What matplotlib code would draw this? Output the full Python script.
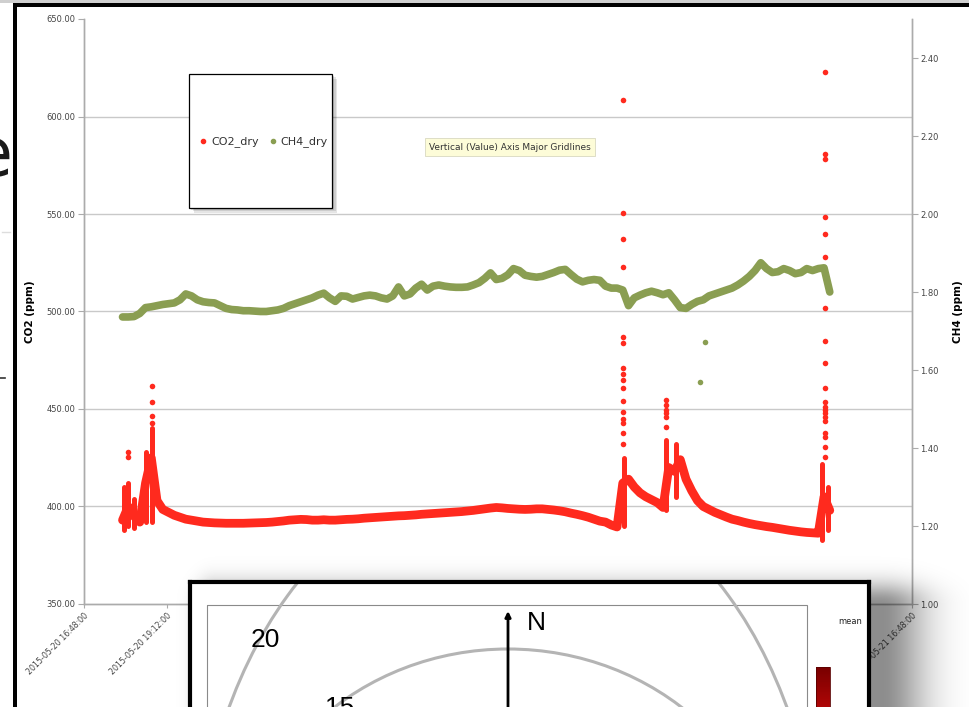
import numpy as np
import pandas as pd
import matplotlib
matplotlib.use('Agg')
import matplotlib.pyplot as plt
from matplotlib.patches import Rectangle, Ellipse
from matplotlib.lines import Line2D
from matplotlib.colors import LinearSegmentedColormap
from matplotlib.ticker import FormatStrFormatter

W, H = 969, 707
RED = '#ff2a1e'
GREEN = '#8a9e52'

# logger samples, every 10 min starting 17:55
co2_base = [393, 400, 395, 392, 412, 425, 403, 398.5, 397, 395.5,
            394.5, 393.5, 393, 392.5, 392, 391.8, 391.6, 391.5, 391.4, 391.4,
            391.4, 391.4, 391.5, 391.6, 391.7, 391.8, 392, 392.3, 392.6, 393,
            393.2, 393.4, 393.3, 393, 393, 393.2, 393, 393, 393.2, 393.4,
            393.5, 393.7, 394, 394.2, 394.4, 394.6, 394.8, 395, 395.2, 395.3,
            395.5, 395.7, 396, 396.2, 396.4, 396.6, 396.8, 397, 397.2, 397.4,
            397.7, 398, 398.4, 398.8, 399.2, 399.5, 399.3, 399, 398.8, 398.6,
            398.5, 398.6, 398.8, 398.8, 398.5, 398.2, 397.8, 397.3, 396.6, 396,
            395.3, 394.5, 393.5, 392.5, 392, 390.5, 389.5, 412, 414, 410,
            407, 405, 403.5, 402, 399.5, 420, 418, 424, 414, 408,
            403, 400, 398.5, 397, 395.8, 394.6, 393.5, 392.8, 392, 391.3,
            390.7, 390.2, 389.7, 389.3, 388.8, 388.3, 387.8, 387.4, 387, 386.7,
            386.5, 386.3, 405, 398]
ch4_base = [1.736, 1.736, 1.737, 1.745, 1.760, 1.762, 1.765, 1.768, 1.770, 1.772,
            1.780, 1.795, 1.790, 1.780, 1.775, 1.773, 1.772, 1.765, 1.758, 1.755,
            1.754, 1.752, 1.752, 1.751, 1.750, 1.750, 1.752, 1.754, 1.758, 1.765,
            1.770, 1.775, 1.780, 1.785, 1.792, 1.797, 1.785, 1.776, 1.790, 1.789,
            1.782, 1.786, 1.790, 1.792, 1.790, 1.785, 1.782, 1.790, 1.813, 1.790,
            1.795, 1.810, 1.820, 1.805, 1.815, 1.818, 1.815, 1.813, 1.812, 1.812,
            1.813, 1.818, 1.824, 1.835, 1.849, 1.832, 1.835, 1.844, 1.860, 1.855,
            1.843, 1.840, 1.838, 1.840, 1.845, 1.850, 1.856, 1.858, 1.845, 1.833,
            1.826, 1.830, 1.832, 1.830, 1.815, 1.810, 1.810, 1.805, 1.765, 1.785,
            1.792, 1.798, 1.802, 1.798, 1.793, 1.798, 1.780, 1.760, 1.758, 1.768,
            1.776, 1.780, 1.790, 1.795, 1.800, 1.805, 1.810, 1.818, 1.828, 1.840,
            1.855, 1.875, 1.860, 1.850, 1.852, 1.860, 1.855, 1.847, 1.850, 1.860,
            1.855, 1.860, 1.862, 1.800]
base_times = pd.date_range('2015-05-20 17:55', periods=len(co2_base), freq='10min')

# dense CO2 columns during spikes: time, low, high
col_times = pd.to_datetime(['2015-05-20 17:58', '2015-05-20 18:05', '2015-05-20 18:15',
                            '2015-05-20 18:36', '2015-05-20 18:46', '2015-05-21 08:27',
                            '2015-05-21 09:40', '2015-05-21 09:58', '2015-05-21 14:11',
                            '2015-05-21 14:22'])
col_lo = [388, 390, 389, 392, 392, 390, 398, 405, 383, 388]
col_hi = [410, 412, 404, 428, 440, 425, 434, 432, 422, 410]

# isolated CO2 readings in the spikes
spike_a = [428, 425.5]
spike_b = [461.8, 453.6, 446.5, 443]
spike_c = [608.5, 550.5, 537, 523, 509.5, 487, 484, 471, 468, 465, 461, 454,
           448.5, 445, 443, 437.7, 432]
spike_d = [454.6, 452, 449.5, 448, 446, 440.7]
spike_e = [622.8, 581, 578, 548.5, 539.7, 528, 501.8, 485, 473.6, 461, 453.6,
           451, 449.5, 448, 446, 444, 437.7, 435.6, 430.5, 425.4]
spike_when = ['2015-05-20 18:05', '2015-05-20 18:46', '2015-05-21 08:26',
              '2015-05-21 09:40', '2015-05-21 14:17']

ch4_out_times = pd.to_datetime(['2015-05-21 10:39', '2015-05-21 10:48'])
ch4_out_vals = [1.569, 1.672]

t0 = pd.Timestamp('2015-05-20 16:48:00')
xticks = pd.date_range(t0, periods=11, freq='144min')


def fx(x):
    return x / W


def fy(y):
    return 1 - y / H


fig = plt.figure(figsize=(W / 100, H / 100), dpi=100)
fig.patch.set_facecolor('white')

ax = fig.add_axes([fx(84), fy(604), (912 - 84) / W, (604 - 19) / H])
ax2 = ax.twinx()

for v in [400, 450, 500, 550, 600]:
    ax.axhline(v, color='#c9c9c9', lw=1.0, zorder=0)

ax2.plot(base_times, ch4_base, color=GREEN, lw=5.5,
         solid_capstyle='round', solid_joinstyle='round')
ax2.scatter(ch4_out_times, ch4_out_vals, s=16, color=GREEN, lw=0)

ax2.plot(base_times, co2_base, color=RED, lw=6.3, transform=ax.transData,
         solid_capstyle='round', solid_joinstyle='round')
ax2.vlines(col_times, col_lo, col_hi, color=RED, lw=3.6, capstyle='round',
           transform=ax.transData)
for when, vals in zip(spike_when, [spike_a, spike_b, spike_c, spike_d, spike_e]):
    ax2.scatter([pd.Timestamp(when)] * len(vals), vals, s=16, color=RED, lw=0,
                transform=ax.transData)

ax.set_xlim(t0, t0 + pd.Timedelta(hours=24))
ax.set_ylim(350, 650)
ax.set_yticks(range(350, 651, 50))
ax.yaxis.set_major_formatter(FormatStrFormatter('%.2f'))
ax2.set_ylim(1.0, 2.5)
ax2.set_yticks(np.arange(1.0, 2.41, 0.2))
ax2.yaxis.set_major_formatter(FormatStrFormatter('%.2f'))

ax.set_xticks(xticks)
ax.set_xticklabels([t.strftime('%Y-%m-%d %H:%M:%S') for t in xticks],
                   rotation=45, ha='right', rotation_mode='anchor')

for a in (ax, ax2):
    a.spines['top'].set_visible(False)
    for s in ('left', 'right', 'bottom'):
        a.spines[s].set_color('#ababab')
        a.spines[s].set_linewidth(1.0)
    a.tick_params(axis='y', length=4, width=0.8, color='#ababab',
                  labelsize=6, labelcolor='#444444', pad=2)
ax.tick_params(axis='x', length=3, width=0.8, color='#ababab',
               labelsize=5.7, labelcolor='#444444', pad=2)

ax.set_ylabel('CO2 (ppm)', fontsize=7.5, fontweight='bold')
ax.yaxis.set_label_coords(-0.059, 0.5)
ax2.set_ylabel('CH4 (ppm)', fontsize=7.5, fontweight='bold', rotation=90)
ax2.yaxis.set_label_coords(1.0495, 0.5)

# legend box with shadow
for k, al in enumerate([0.10, 0.10, 0.12]):
    off = 5 - k * 1.5
    fig.add_artist(Rectangle((fx(189 + off), fy(208 + off)), 143 / W, 134 / H,
                             transform=fig.transFigure, fc='black', ec='none',
                             alpha=al, zorder=4))
fig.add_artist(Rectangle((fx(189), fy(208)), 143 / W, 134 / H,
                         transform=fig.transFigure, fc='white', ec='black',
                         lw=0.9, zorder=5))
handles = [Line2D([], [], marker='o', ls='', color=RED, ms=3),
           Line2D([], [], marker='o', ls='', color=GREEN, ms=3)]
leg = fig.legend(handles, ['CO2_dry', 'CH4_dry'], loc='center',
                 bbox_to_anchor=(fx(264), fy(142)), ncol=2, frameon=False,
                 fontsize=8, handlelength=0.5, handletextpad=0.5,
                 columnspacing=1.0, labelcolor='#333333')
leg.set_zorder(6)

fig.text(fx(510), fy(147), 'Vertical (Value) Axis Major Gridlines',
         ha='center', va='center', fontsize=6.5, color='#333333', zorder=7,
         bbox=dict(boxstyle='square,pad=0.45', fc='#fdfcd8', ec='#d9d8c0', lw=0.6))

# screenshot frame
fig.add_artist(Rectangle((0, fy(3)), 1, 3 / H, transform=fig.transFigure,
                         fc='#cfcfcf', ec='none', zorder=8))
fig.add_artist(Rectangle((fx(13), 0), 4 / W, (H - 3) / H, transform=fig.transFigure,
                         fc='black', ec='none', zorder=8))
fig.add_artist(Rectangle((fx(13), fy(7)), (W - 13) / W, 4 / H,
                         transform=fig.transFigure, fc='black', ec='none', zorder=8))
fig.text(fx(12), fy(176), 'e', ha='right', va='baseline', fontsize=48,
         color='#1a1a1a', zorder=3)
fig.add_artist(Line2D([fx(0), fx(5)], [fy(378), fy(378)], transform=fig.transFigure,
                      color='#333333', lw=1.2, zorder=3))
fig.add_artist(Line2D([fx(2), fx(10)], [fy(232), fy(232)], transform=fig.transFigure,
                      color='#dddddd', lw=1.0, zorder=3))

# drop shadow of the overlapping window (mostly to the right, faint on top)
yy, xx = np.mgrid[0:H, 0:W]
dx = np.maximum(np.maximum(2.5 * (215 - xx), xx - 880), 0)
dy = np.maximum(2.0 * (605 - yy), 0)
dist = np.hypot(dx, dy)
rgba = np.zeros((H, W, 4))
rgba[..., 3] = 0.45 * np.exp(-(dist / 45.0) ** 2)
sh = fig.add_axes([0, 0, 1, 1], zorder=9)
sh.imshow(rgba, extent=[0, W, H, 0], aspect='auto', interpolation='bilinear')
sh.set_xlim(0, W)
sh.set_ylim(H, 0)
sh.axis('off')

# overlapping wind-rose window
axi = fig.add_axes([fx(190), fy(767), (869 - 190) / W, (767 - 582) / H], zorder=10)
axi.set_facecolor('white')
axi.set_xticks([])
axi.set_yticks([])
for s in axi.spines.values():
    s.set_color('black')
    s.set_linewidth(3)
axi.add_patch(Rectangle((207, 605), 600, 200, fc='none', ec='#8a8a8a', lw=0.8))
axi.add_patch(Ellipse((508, 900), 624, 860, fc='none', ec='#b4b4b4', lw=2.2))
axi.add_patch(Ellipse((508, 900), 542, 502, fc='none', ec='#b4b4b4', lw=2.2))
axi.annotate('', xy=(508, 611), xytext=(508, 767),
             arrowprops=dict(arrowstyle='-|>', lw=2.0, color='black',
                             mutation_scale=8, shrinkA=0, shrinkB=0))
axi.text(536, 623, 'N', ha='center', va='center', fontsize=19,
         family='Liberation Sans')
axi.text(265, 640, '20', ha='center', va='center', fontsize=19,
         family='Liberation Sans')
axi.text(340, 708, '15', ha='center', va='center', fontsize=19,
         family='Liberation Sans')
axi.text(838, 622, 'mean', ha='left', va='center', fontsize=6, color='#222222')
grad = np.linspace(0, 1, 60)[:, None]
cm = LinearSegmentedColormap.from_list('rose', ['#7a0000', '#ff1010'])
axi.imshow(grad, extent=[816, 830, 767, 667], cmap=cm, aspect='auto')
axi.add_patch(Rectangle((816, 667), 14, 100, fc='none', ec='#5a0000', lw=0.6))
axi.set_xlim(190, 869)
axi.set_ylim(767, 582)

fig.savefig('out.png', dpi=100)
